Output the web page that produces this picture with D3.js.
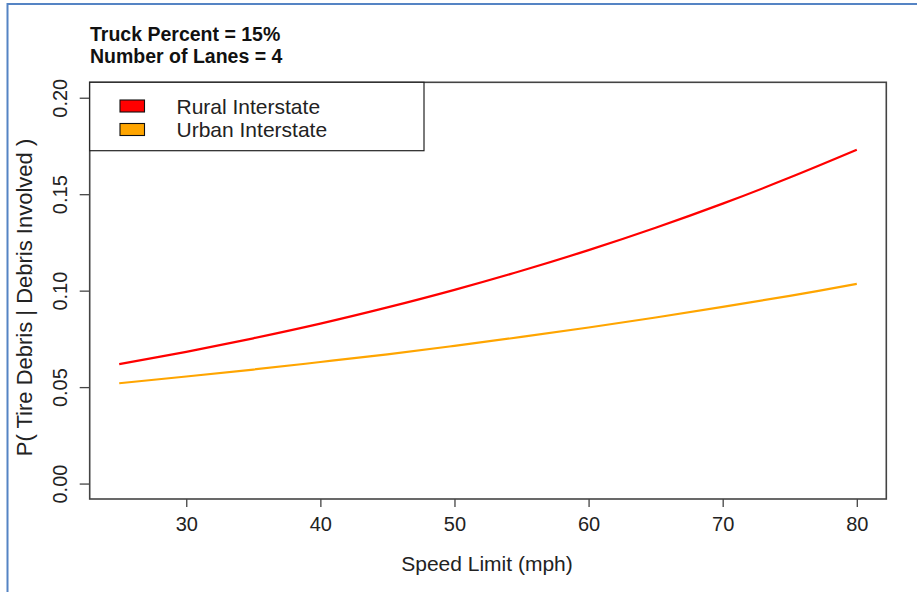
<!DOCTYPE html>
<html>
<head>
<meta charset="utf-8">
<script src="https://cdn.jsdelivr.net/npm/d3@7"></script>
<style>
  html, body { margin: 0; padding: 0; background: #fff; }
  svg { display: block; font-family: "Liberation Sans", Arial, sans-serif; }
</style>
</head>
<body>
<svg id="chart" width="917" height="592"></svg>
<script>
// ---- Data ----
const speeds = [25, 30, 35, 40, 45, 50, 55, 60, 65, 70, 75, 80];
const ruralValues = [0.0619, 0.0683, 0.0753, 0.0829, 0.0913, 0.1004, 0.1103, 0.1210, 0.1326, 0.1451, 0.1586, 0.1730];
const urbanValues = [0.0520, 0.0555, 0.0591, 0.0630, 0.0670, 0.0714, 0.0760, 0.0809, 0.0861, 0.0916, 0.0973, 0.1035];
const seriesNames = ["Rural Interstate", "Urban Interstate"];
const seriesColors = ["#ff0000", "#ffa500"];
const xTicks = [30, 40, 50, 60, 70, 80];
const yTicks = [0.00, 0.05, 0.10, 0.15, 0.20];
const titleLines = ["Truck Percent = 15%", "Number of Lanes = 4"];
const xLabel = "Speed Limit (mph)";
const yLabel = "P( Tire Debris | Debris Involved )";

const svg = d3.select("#chart");
const W = 917, H = 592;

// outer blue frame (only top and left visible)
svg.append("rect").attr("x", 7.5).attr("y", 4).attr("width", W).attr("height", H)
  .attr("fill", "none").attr("stroke", "#5584c4").attr("stroke-width", 2);

const plot = { left: 89.7, right: 886.3, top: 82.3, bottom: 499 };

const x = d3.scaleLinear().domain([22.8, 82.2]).range([plot.left, plot.right]);
const y = d3.scaleLinear().domain([-0.008, 0.208]).range([plot.bottom, plot.top]);

const axisColor = "#444";

// x axis
const xAxis = svg.append("g").attr("transform", `translate(0,${plot.bottom})`)
  .call(d3.axisBottom(x).tickValues(xTicks).tickSize(8).tickPadding(10).tickFormat(d3.format("d")));
xAxis.select(".domain").remove();
xAxis.selectAll("line").attr("stroke", axisColor).attr("stroke-width", 1.3);
xAxis.selectAll("text").attr("font-size", 20).attr("fill", "#222")
  .attr("font-family", "'Liberation Sans', Arial, sans-serif");

// y axis
const yAxis = svg.append("g").attr("transform", `translate(${plot.left},0)`)
  .call(d3.axisLeft(y).tickValues(yTicks).tickSize(10).tickFormat(d3.format(".2f")));
yAxis.select(".domain").remove();
yAxis.selectAll("line").attr("stroke", axisColor).attr("stroke-width", 1.3);
yAxis.selectAll("text")
  .attr("font-size", 20).attr("fill", "#222")
  .attr("font-family", "'Liberation Sans', Arial, sans-serif")
  .attr("x", null).attr("dy", null)
  .attr("text-anchor", "middle")
  .attr("transform", d => `translate(${-plot.left + 60 + 7},0) rotate(-90)`);

// plot box
svg.append("rect").attr("x", plot.left).attr("y", plot.top)
  .attr("width", plot.right - plot.left).attr("height", plot.bottom - plot.top)
  .attr("fill", "none").attr("stroke", axisColor).attr("stroke-width", 1.6);

// lines
const line = d3.line().x(d => x(d[0])).y(d => y(d[1])).curve(d3.curveCatmullRom);
[ruralValues, urbanValues].forEach((vals, i) => {
  svg.append("path")
    .datum(speeds.map((s, j) => [s, vals[j]]))
    .attr("d", line)
    .attr("fill", "none")
    .attr("stroke", seriesColors[i])
    .attr("stroke-width", 2.2);
});

// legend
const lg = svg.append("g");
lg.append("rect").attr("x", plot.left).attr("y", plot.top)
  .attr("width", 424 - plot.left).attr("height", 150.7 - plot.top)
  .attr("fill", "#fff").attr("stroke", "#222").attr("stroke-width", 1.2);
seriesNames.forEach((name, i) => {
  const cy = 106 + i * 23.5;
  lg.append("rect").attr("x", 120).attr("y", cy - 6).attr("width", 24.5).attr("height", 12)
    .attr("fill", seriesColors[i]).attr("stroke", "#111").attr("stroke-width", 1.1);
  lg.append("text").attr("x", 176.5).attr("y", cy + 7.5).attr("font-size", 21)
    .attr("fill", "#222").text(name);
});

// titles
titleLines.forEach((t, i) => {
  svg.append("text").attr("x", 90).attr("y", 40.5 + i * 22.8)
    .attr("font-size", 19.5).attr("font-weight", "bold").attr("fill", "#111").text(t);
});

// axis labels
svg.append("text").attr("x", (plot.left + plot.right) / 2 - 1).attr("y", 571)
  .attr("text-anchor", "middle").attr("font-size", 21).attr("fill", "#222").text(xLabel);
svg.append("text").attr("transform", `translate(31.5,297.5) rotate(-90)`)
  .attr("text-anchor", "middle").attr("font-size", 22).attr("fill", "#222").text(yLabel);
</script>
</body>
</html>
